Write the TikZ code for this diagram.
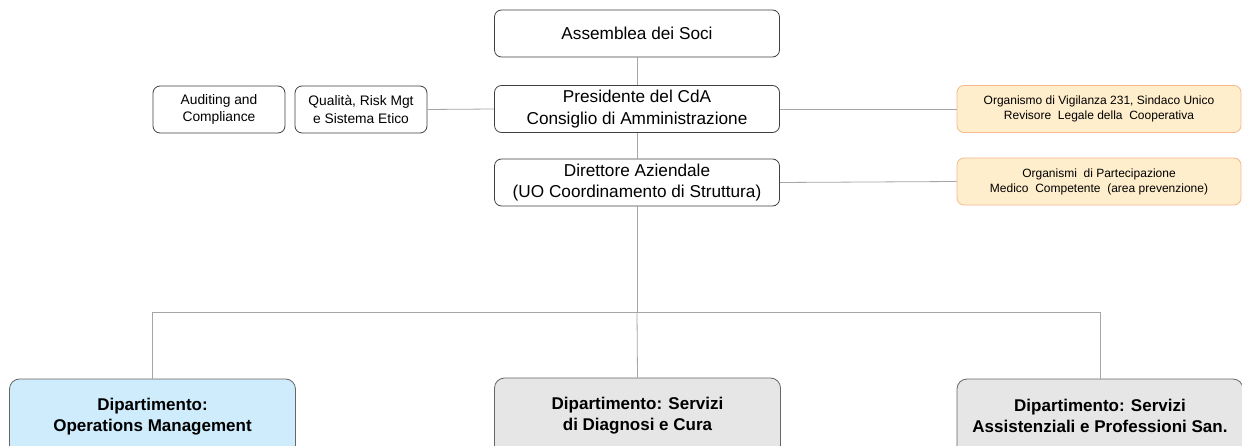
\documentclass[tikz,border=0pt]{standalone}
\usepackage{fontspec}
\setmainfont{Liberation Sans}
\definecolor{orfill}{RGB}{255,238,204}
\definecolor{ordraw}{RGB}{246,184,140}
\definecolor{bluefill}{RGB}{206,236,251}
\definecolor{grayfill}{RGB}{230,230,230}
\begin{document}
\begin{tikzpicture}[x=1pt,y=-1pt,
  box/.style={draw=black!75,line width=0.8pt,rounded corners=7pt,fill=white,align=center,inner sep=0pt},
  main/.style={box,minimum width=285pt,minimum height=47pt,font=\fontsize{17.2}{21.5}\selectfont},
  small/.style={box,minimum width=132pt,minimum height=47pt,font=\fontsize{13.8}{17.5}\selectfont},
  orange/.style={box,draw=ordraw,fill=orfill,minimum width=284pt,minimum height=47pt,font=\fontsize{12}{15}\selectfont},
  dept/.style={box,draw=black!60,rounded corners=10pt,minimum width=286pt,minimum height=80pt},
  depttext/.style={font=\bfseries\fontsize{17}{21}\selectfont,align=center},
  link/.style={draw=black!35,line width=0.8pt}]
\clip (0,0) rectangle (1242,446);
\useasboundingbox (0,0) rectangle (1242,446);
\fill[white] (0,0) rectangle (1242,446);
\node[main] (ass) at (637,33.5) {Assemblea dei Soci};
\node[main] (pres) at (637,109) {Presidente del CdA\\Consiglio di Amministrazione};
\node[main] (dir) at (637,182.5) {Direttore Aziendale\\(UO Coordinamento di Struttura)};
\node[small] (aud) at (219,109.5) {Auditing and\\Compliance};
\node[small] (qual) at (361,109.5) {Qualità,\ Risk Mgt\\e Sistema Etico};
\node[orange] (org1) at (1099,109) {Organismo di Vigilanza 231, Sindaco Unico\\Revisore\ \ Legale\ della\ \ Cooperativa};
\node[orange] (org2) at (1099,181.5) {Organismi\ \ di Partecipazione\\Medico\ \ Competente\ \ (area prevenzione)};
\node[dept,fill=bluefill] (d1) at (152.5,419) {};
\node[dept,fill=grayfill] (d2) at (637.5,418) {};
\node[dept,fill=grayfill] (d3) at (1100,419) {};
\node[depttext] (t1) at (152.5,417) {Dipartimento:\\Operations Management};
\node[depttext] (t2) at (637.5,416) {Dipartimento: Servizi\\di Diagnosi e Cura};
\node[depttext] (t3) at (1100,416) {Dipartimento: Servizi\\Assistenziali e Professioni San.};
\coordinate (j) at (637,312);
\draw[link] (ass.south) -- (pres.north);
\draw[link] (pres.south) -- (dir.north);
\draw[link] (qual.east) -- (pres.west);
\draw[link] (pres.east) -- (org1.west);
\draw[link] (dir.east) -- (org2.west);
\draw[link] (dir.south) -- (j);
\draw[link] (j) -| (d1.north);
\draw[link] (j) -- (d2.north);
\draw[link] (j) -| (d3.north);
\end{tikzpicture}
\end{document}
